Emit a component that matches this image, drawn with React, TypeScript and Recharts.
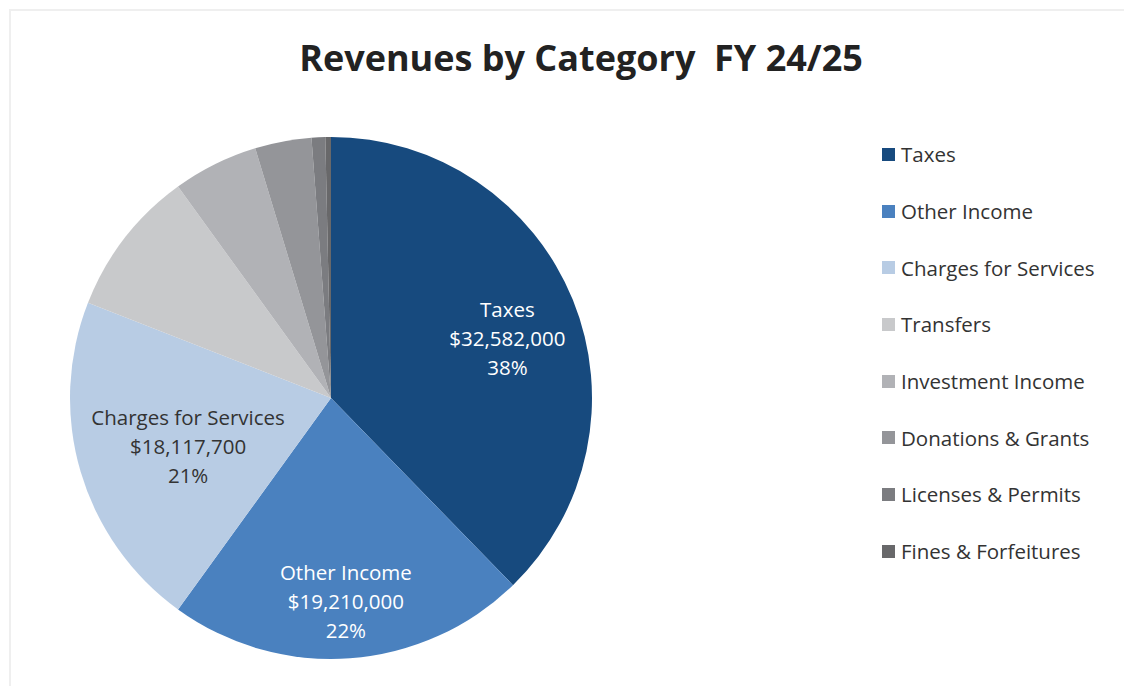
import { PieChart, Pie, Cell, Legend } from 'recharts';

const categories = [
  'Taxes',
  'Other Income',
  'Charges for Services',
  'Transfers',
  'Investment Income',
  'Donations & Grants',
  'Licenses & Permits',
  'Fines & Forfeitures',
];
const amounts = [32582000, 19210000, 18117700, 7850000, 4560000, 3020000, 730000, 300000];
const colors = ['#174a7e', '#4a81bf', '#b8cce4', '#c8c9cb', '#b1b2b6', '#949599', '#7b7c80', '#68686a'];

// only the three largest slices carry a label
const labelled = [0, 1, 2];
const labelRadius = [186, 205, 151];
const labelNudge = [-3.6, 0, 2.5];
const labelFill = ['#ffffff', '#ffffff', '#333333'];

const FONT = '"Open Sans", sans-serif';
const RAD = Math.PI / 180;

const data = categories.map((name, i) => ({ name, value: amounts[i] }));

const money = (v: number) => '$' + v.toLocaleString('en-US');

function SliceLabel(props: any) {
  const { cx, cy, midAngle, percent, index, value, name } = props;
  if (!labelled.includes(index)) return null;
  const a = (midAngle + labelNudge[index]) * RAD;
  const x = cx + labelRadius[index] * Math.cos(-a);
  const y = cy + labelRadius[index] * Math.sin(-a);
  return (
    <text x={x} y={y} textAnchor="middle" fill={labelFill[index]} fontFamily={FONT} fontSize={20.5}>
      <tspan x={x} dy={-22}>{name}</tspan>
      <tspan x={x} dy={29}>{money(value)}</tspan>
      <tspan x={x} dy={29}>{Math.round(percent * 100)}%</tspan>
    </text>
  );
}

function LegendList({ payload }: any) {
  const items = [...(payload || [])].sort(
    (a: any, b: any) => categories.indexOf(a.value) - categories.indexOf(b.value)
  );
  return (
    <div style={{ fontFamily: FONT, fontSize: 20.5, color: '#333' }}>
      {items.map((p: any) => (
        <div key={p.value} style={{ height: 56.7, display: 'flex', alignItems: 'center' }}>
          <span style={{ display: 'inline-block', width: 13, height: 13, background: p.color, marginRight: 6 }} />
          <span>{p.value}</span>
        </div>
      ))}
    </div>
  );
}

export default function App() {
  return (
    <div style={{ position: 'absolute', left: 0, top: 0, width: 1124, height: 686, background: '#fff' }}>
      <div
        style={{
          position: 'absolute',
          left: 9,
          top: 9,
          right: 0,
          bottom: 0,
          borderTop: '2px solid #efefef',
          borderLeft: '2px solid #efefef',
        }}
      />
      <PieChart
        width={1124}
        height={686}
        margin={{ top: 0, right: 0, bottom: 0, left: 0 }}
        style={{ position: 'absolute', left: 0, top: 0 }}
      >
        <text
          x={581}
          y={71}
          textAnchor="middle"
          fontFamily={FONT}
          fontWeight={700}
          fontSize={36}
          fill="#222"
          style={{ whiteSpace: 'pre' }}
        >
          Revenues by Category  FY 24/25
        </text>
        <Pie
          data={data}
          dataKey="value"
          nameKey="name"
          cx={331}
          cy={398}
          outerRadius={261}
          startAngle={90}
          endAngle={-270}
          stroke="none"
          label={SliceLabel}
          labelLine={false}
          isAnimationActive={false}
        >
          {data.map((d, i) => (
            <Cell key={d.name} fill={colors[i]} />
          ))}
        </Pie>
        <Legend
          layout="vertical"
          align="right"
          verticalAlign="top"
          content={<LegendList />}
          wrapperStyle={{ left: 882, top: 126, width: 240 }}
        />
      </PieChart>
    </div>
  );
}
